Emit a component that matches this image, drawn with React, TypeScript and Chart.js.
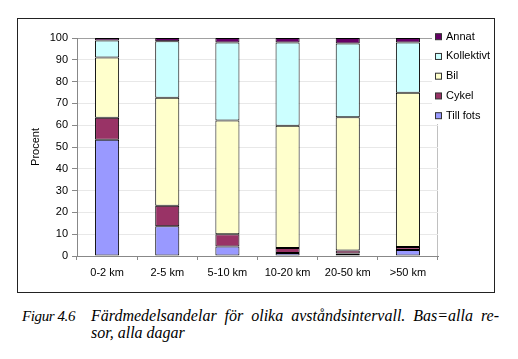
import React, { useEffect, useRef } from "react";
import { Chart, registerables } from "chart.js";

Chart.register(...registerables);

const categories = ["0-2 km", "2-5 km", "5-10 km", "10-20 km", "20-50 km", ">50 km"];
const tillFots = [53.3, 13.6, 4.4, 1.4, 1.1, 2.8];
const cykel = [10.1, 9.4, 5.6, 2.3, 1.4, 1.3];
const bil = [27.6, 49.6, 52.2, 56.0, 61.2, 70.8];
const kollektivt = [7.9, 25.9, 35.7, 38.2, 33.8, 23.0];
const annat = [1.1, 1.5, 2.1, 2.1, 2.5, 2.1];
const yTicks = [0, 10, 20, 30, 40, 50, 60, 70, 80, 90, 100];

const FONT = "'Liberation Sans', Arial, sans-serif";

const legendPlugin = {
  id: "customLegend",
  afterDraw(chart: any) {
    const ctx = chart.ctx;
    ctx.save();
    ctx.fillStyle = "#ffffff";
    ctx.fillRect(414, 9, 62, 96);
    const ds = chart.data.datasets.slice().reverse();
    ctx.font = "11px " + FONT;
    ctx.textBaseline = "middle";
    ctx.textAlign = "left";
    ds.forEach((d: any, i: number) => {
      const cy = 17.7 + i * 19.75;
      ctx.fillStyle = d.backgroundColor;
      ctx.fillRect(417.5, cy - 3, 6, 6);
      ctx.strokeStyle = "#333";
      ctx.lineWidth = 1;
      ctx.strokeRect(417.5, cy - 3, 6, 6);
      ctx.fillStyle = "#000";
      ctx.fillText(d.label, 428, cy);
    });
    ctx.restore();
  },
};

export default function App() {
  const ref = useRef<HTMLCanvasElement>(null);
  useEffect(() => {
    document.body.style.margin = "0";
    const mk = (label: string, data: number[], color: string) => ({
      label,
      data,
      backgroundColor: color,
      borderColor: "#000",
      borderWidth: 1,
      borderSkipped: false,
      barPercentage: 0.4,
      categoryPercentage: 1,
    });
    const chart = new Chart(ref.current as HTMLCanvasElement, {
      type: "bar",
      data: {
        labels: categories,
        datasets: [
          mk("Till fots", tillFots, "#9999ff"),
          mk("Cykel", cykel, "#993366"),
          mk("Bil", bil, "#ffffcc"),
          mk("Kollektivt", kollektivt, "#ccffff"),
          mk("Annat", annat, "#660066"),
        ],
      },
      plugins: [legendPlugin],
      options: {
        animation: false,
        responsive: false,
        layout: { padding: { top: 19, right: 56, left: 0, bottom: 0 } },
        plugins: { legend: { display: false }, tooltip: { enabled: false } },
        scales: {
          x: {
            stacked: true,
            afterFit: (s: any) => {
              s.height = 36;
            },
            ticks: { color: "#000", font: { family: FONT, size: 11 }, padding: 6, maxRotation: 0 },
            grid: {
              offset: true,
              drawOnChartArea: true,
              color: (c: any) => (c.type === "scale" ? "#c0c0c0" : "rgba(0,0,0,0)"),
              tickColor: "#888",
              tickLength: 4,
            },
            border: { color: "#888" },
          },
          y: {
            stacked: true,
            min: 0,
            max: 100,
            afterFit: (s: any) => {
              s.width = 59;
            },
            afterBuildTicks: (s: any) => {
              s.ticks = yTicks.map((v) => ({ value: v }));
            },
            ticks: { color: "#000", font: { family: FONT, size: 11 }, padding: 4 },
            grid: {
              color: (c: any) => (c.tick && c.tick.value === 100 ? "#a0a0a0" : "#e8e8e8"),
              tickColor: "#888",
              tickLength: 5,
            },
            border: { color: "#888" },
            title: {
              display: true,
              text: "Procent",
              color: "#000",
              font: { family: FONT, size: 11 },
              padding: { top: 11, bottom: 0 },
            },
          },
        },
      },
    });
    return () => chart.destroy();
  }, []);

  const cap: React.CSSProperties = {
    position: "absolute",
    fontFamily: "'Liberation Serif', 'Times New Roman', serif",
    fontStyle: "italic",
    fontSize: 16,
    lineHeight: "17px",
    color: "#000",
    whiteSpace: "nowrap",
  };

  return (
    <div style={{ position: "fixed", left: 0, top: 0, width: 518, height: 359, background: "#fff" }}>
      <div
        style={{
          position: "absolute",
          left: 17,
          top: 18,
          width: 478,
          height: 275,
          boxSizing: "border-box",
          border: "1px solid #222",
        }}
      >
        <canvas ref={ref} width={476} height={273} style={{ display: "block", width: 476, height: 273 }} />
      </div>
      <div style={{ ...cap, left: 22, top: 308, fontSize: 15, letterSpacing: "-0.4px" }}>Figur 4.6</div>
      <div
        style={{
          ...cap,
          left: 91,
          top: 307,
          width: 408,
          whiteSpace: "normal",
          textAlign: "justify",
          textAlignLast: "justify",
        }}
      >
        Färdmedelsandelar för olika avståndsintervall. Bas=alla re-
      </div>
      <div style={{ ...cap, left: 91, top: 324 }}>sor, alla dagar</div>
    </div>
  );
}
